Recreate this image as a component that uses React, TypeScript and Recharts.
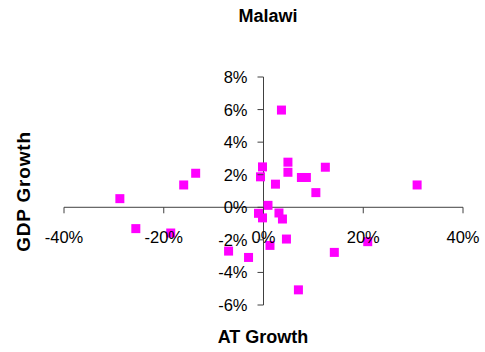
import React from "react";
import { ScatterChart, Scatter, XAxis, YAxis, ReferenceLine } from "recharts";

const title = "Malawi";
const xTitle = "AT Growth";
const yTitle = "GDP Growth";

// AT growth (%), GDP growth (%)
const atGrowth = [
  -28.8, -16.0, -13.6, -0.2, -0.6, 0.9, -1.0, -0.2, 3.6, 4.9, 4.9, 2.4, 7.6, 8.6,
  12.4, 10.5, 30.8, 3.1, 3.8, -25.6, -18.6, -7.0, -3.0, 1.3, 4.6, 20.9, 14.2, 7.0,
];
const gdpGrowth = [
  0.53, 1.37, 2.09, 2.48, 1.87, 0.12, -0.37, -0.65, 5.97, 2.77, 2.15, 1.42, 1.83, 1.83,
  2.46, 0.9, 1.37, -0.35, -0.72, -1.31, -1.58, -2.69, -3.08, -2.34, -1.95, -2.11, -2.77, -5.07,
];
const xTicks = [-40, -20, 0, 20, 40];
const yTicks = [-6, -4, -2, 0, 2, 4, 6, 8];

const points = atGrowth.map((x, i) => ({ x, y: gdpGrowth[i] }));
const xTickData = xTicks.map((x) => ({ x, y: 0 }));
const yTickData = yTicks.map((y) => ({ x: 0, y }));

const FONT = "'Liberation Sans', Arial, sans-serif";
const AXIS = "#404040";

const Square = (p: any) => (
  <rect x={p.cx - 4.5} y={p.cy - 4.5} width={9} height={9} fill="#FF00FF" />
);

const XTick = (p: any) => (
  <g>
    <line x1={p.cx} y1={p.cy} x2={p.cx} y2={p.cy + 6} stroke={AXIS} strokeWidth={1} />
    <text x={p.cx} y={p.cy + 36} textAnchor="middle" fontFamily={FONT} fontSize={16.5} fill="#000">
      {`${p.payload.x}%`}
    </text>
  </g>
);

const YTick = (p: any) => (
  <g>
    <line x1={p.cx - 6} y1={p.cy} x2={p.cx} y2={p.cy} stroke={AXIS} strokeWidth={1} />
    <text x={p.cx - 16} y={p.cy + 6} textAnchor="end" fontFamily={FONT} fontSize={16.5} fill="#000">
      {`${p.payload.y}%`}
    </text>
  </g>
);

export default function App() {
  return (
    <div style={{ position: "absolute", left: 0, top: 0, width: 485, height: 352, background: "#fff" }}>
      <ScatterChart width={485} height={352} margin={{ top: 77, right: 22, bottom: 47, left: 64 }}>
        <XAxis type="number" dataKey="x" domain={[-40, 40]} hide />
        <YAxis type="number" dataKey="y" domain={[-6, 8]} hide />
        <ReferenceLine x={0} stroke={AXIS} strokeWidth={1} />
        <ReferenceLine y={0} stroke={AXIS} strokeWidth={1} />
        <Scatter data={points} shape={<Square />} isAnimationActive={false} />
        <Scatter data={xTickData} shape={<XTick />} isAnimationActive={false} />
        <Scatter data={yTickData} shape={<YTick />} isAnimationActive={false} />
      </ScatterChart>
      <svg width={485} height={352} style={{ position: "absolute", left: 0, top: 0, pointerEvents: "none" }}>
        <text x={268} y={21.5} textAnchor="middle" fontFamily={FONT} fontWeight="bold" fontSize={18} fill="#000">
          {title}
        </text>
        <text x={263} y={343} textAnchor="middle" fontFamily={FONT} fontWeight="bold" fontSize={18} fill="#000">
          {xTitle}
        </text>
        <text
          x={0}
          y={0}
          transform="translate(30,191.5) rotate(-90)"
          textAnchor="middle"
          fontFamily={FONT}
          fontWeight="bold"
          fontSize={19}
          letterSpacing={0.8}
          fill="#000"
        >
          {yTitle}
        </text>
      </svg>
    </div>
  );
}
